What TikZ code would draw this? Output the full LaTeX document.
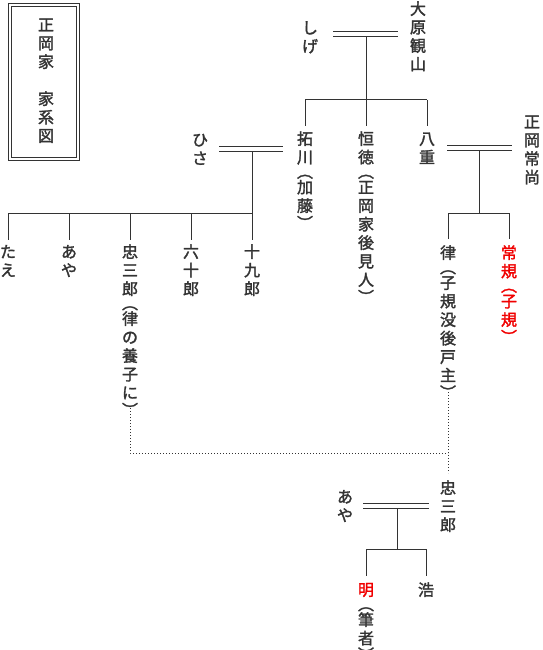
\documentclass[tikz,border=0pt]{standalone}
\usepackage{fontspec}
\usepackage{graphicx}
\newfontfamily\jp[FakeBold=1.8]{Noto Sans CJK JP}
\definecolor{ink}{HTML}{333333}
\definecolor{redink}{HTML}{F00000}
\newcommand\F{\rule{0pt}{13.5pt}}
\newcommand\po{\rotatebox[origin=c]{-90}{（}}
\newcommand\pc{\rotatebox[origin=c]{-90}{）}}
\tikzset{
  vcol/.style={font=\jp\fontsize{16}{18.5}\selectfont, text=ink, align=center, inner sep=0pt, anchor=north},
  conn/.style={draw=ink, line width=1pt},
  dotconn/.style={draw=ink, line width=1pt, dash pattern=on 1pt off 2pt},
  framebox/.style={draw=ink, line width=0.9pt},
}
\begin{document}
\begin{tikzpicture}[x=1pt,y=-1pt]
\useasboundingbox (0,0) rectangle (542,650);
% title box
\coordinate (fo1) at (8.5,3.5); \coordinate (fo2) at (79.5,160.5);
\coordinate (fi1) at (11.5,6.5); \coordinate (fi2) at (76.5,157.5);
\draw[framebox] (fo1) rectangle (fo2);
\draw[framebox] (fi1) rectangle (fi2);
\node[vcol] (title) at (46,17) {\F 正\\岡\\家\\\mbox{}\\家\\系\\図};
% people
\node[vcol] (kanzan) at (418,1) {\F 大\\原\\観\\山};
\node[vcol] (shige) at (310,20) {\F し\\げ};
\node[vcol] (takusen) at (305,131) {\F 拓\\川\\[-4pt]\po\\[-3pt]加\\藤\\[-1pt]\pc};
\node[vcol] (tsunenori) at (366,131) {\F 恒\\徳\\[-4pt]\po\\[-3pt]正\\岡\\家\\後\\見\\人\\[-1pt]\pc};
\node[vcol] (yae) at (427,131) {\F 八\\重};
\node[vcol] (tsunenao) at (532,114) {\F 正\\岡\\常\\尚};
\node[vcol] (hisa) at (200,132) {\F ひ\\さ};
\node[vcol] (tae) at (8,244) {\F た\\え};
\node[vcol] (aya1) at (69,244) {\F あ\\や};
\node[vcol] (chu1) at (130,244) {\F 忠\\三\\郎\\[-4pt]\po\\[-3pt]律\\の\\養\\子\\に\\[-1pt]\pc};
\node[vcol] (rokuju) at (191,244) {\F 六\\十\\郎};
\node[vcol] (tsuku) at (252,244) {\F 十\\九\\郎};
\node[vcol] (ritsu) at (448,245) {\F 律\\[-4pt]\po\\[-3pt]子\\規\\没\\後\\戸\\主\\[-1pt]\pc};
\node[vcol, text=redink] (shiki) at (509,245) {\F 常\\規\\[-4pt]\po\\[-3pt]子\\規\\[-1pt]\pc};
\node[vcol] (chu2) at (448,480) {\F 忠\\三\\郎};
\node[vcol] (aya2) at (345,489) {\F あ\\や};
\node[vcol] (akira) at (366,582) {\F {\color{redink}明}\\[-4pt]\po\\[-3pt]筆\\者\\[-2pt]\pc};
\node[vcol] (hiroshi) at (426,582) {\F 浩};
% couple 1: 観山 - しげ
\coordinate (m1a) at (333,32); \coordinate (m1b) at (398,32);
\coordinate (m1c) at (333,37); \coordinate (m1d) at (398,37);
\coordinate (m1) at (366,37); \coordinate (b1) at (366,100);
\draw[conn] (m1a) -- (m1b); \draw[conn] (m1c) -- (m1d);
\draw[conn] (m1) -- (b1);
\draw[conn] (takusen.north |- b1) -- (yae.north |- b1);
\draw[conn] (takusen.north |- b1) -- ([yshift=5pt]takusen.north);
\draw[conn] (tsunenori.north |- b1) -- ([yshift=5pt]tsunenori.north);
\draw[conn] (yae.north |- b1) -- ([yshift=5pt]yae.north);
% couple 2: 拓川 - ひさ
\coordinate (m2a) at (219,146); \coordinate (m2b) at (283,146);
\coordinate (m2c) at (219,151); \coordinate (m2d) at (283,151);
\coordinate (m2) at (252,151); \coordinate (b2) at (252,213);
\draw[conn] (m2a) -- (m2b); \draw[conn] (m2c) -- (m2d);
\draw[conn] (m2) -- (b2);
\draw[conn] (tae.north |- b2) -- (tsuku.north |- b2);
\foreach \n in {tae,aya1,chu1,rokuju,tsuku}
  \draw[conn] (\n.north |- b2) -- ([yshift=4pt]\n.north);
% couple 3: 八重 - 常尚
\coordinate (m3a) at (447,145); \coordinate (m3b) at (512,145);
\coordinate (m3c) at (447,150); \coordinate (m3d) at (512,150);
\coordinate (m3) at (479,150); \coordinate (b3) at (479,213);
\draw[conn] (m3a) -- (m3b); \draw[conn] (m3c) -- (m3d);
\draw[conn] (m3) -- (b3);
\draw[conn] (ritsu.north |- b3) -- (shiki.north |- b3);
\foreach \n in {ritsu,shiki}
  \draw[conn] (\n.north |- b3) -- ([yshift=6pt]\n.north);
% adoption (dotted)
\coordinate (r1) at (448,392);
\coordinate (r2) at (448,473);
\coordinate (d1) at (448,453);
\coordinate (c1) at (130,408);
\draw[dotconn] (r1) -- (r2);
\draw[dotconn] (c1) -- (c1 |- d1) -- (d1);
% couple 4: 忠三郎 - あや
\coordinate (m4a) at (363,503); \coordinate (m4b) at (429,503);
\coordinate (m4c) at (363,508); \coordinate (m4d) at (429,508);
\coordinate (m4) at (397,508); \coordinate (b4) at (397,549);
\draw[conn] (m4a) -- (m4b); \draw[conn] (m4c) -- (m4d);
\draw[conn] (m4) -- (b4);
\draw[conn] (akira.north |- b4) -- (hiroshi.north |- b4);
\foreach \n in {akira,hiroshi}
  \draw[conn] (\n.north |- b4) -- ([yshift=6pt]\n.north);
\end{tikzpicture}
\end{document}
